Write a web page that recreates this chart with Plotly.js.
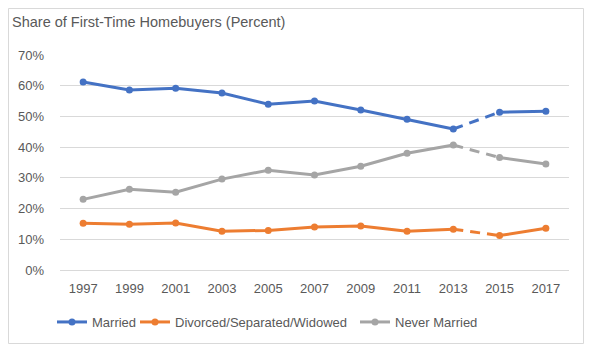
<!DOCTYPE html>
<html>
<head>
<meta charset="utf-8">
<script src="https://cdn.plot.ly/plotly-3.0.1.min.js"></script>
<style>
  html, body { margin: 0; padding: 0; background: #ffffff; }
  #chart { width: 592px; height: 352px; }
</style>
</head>
<body>
<div id="chart"></div>
<script>
// ---- data ----
const years = ["1997", "1999", "2001", "2003", "2005", "2007", "2009", "2011", "2013", "2015", "2017"];
const married = [61.2, 58.6, 59.2, 57.6, 54.0, 55.0, 52.1, 49.1, 45.9, 51.4, 51.7];
const divorced = [15.2, 14.9, 15.3, 12.6, 12.9, 14.0, 14.3, 12.6, 13.3, 11.2, 13.6];
const neverMarried = [23.0, 26.3, 25.3, 29.6, 32.5, 30.9, 33.8, 38.0, 40.7, 36.6, 34.5];
const yTickVals = [0, 10, 20, 30, 40, 50, 60, 70];
const yTickText = ["0%", "10%", "20%", "30%", "40%", "50%", "60%", "70%"];
const seriesNames = ["Married", "Divorced/Separated/Widowed", "Never Married"];
const seriesColors = ["#4472C4", "#ED7D31", "#A5A5A5"];
const seriesValues = [married, divorced, neverMarried];
const breakStart = 8; // 2013 -> 2015 drawn dashed

const FONT = "Liberation Sans, Arial, sans-serif";
const TXT = "#595959";

const legendTraces = [], otherTraces = [];
seriesValues.forEach((vals, i) => {
  const col = seriesColors[i];
  const lg = i === 0 ? "legend" : "legend" + (i + 1);
  legendTraces.push({
    x: years.slice(0, breakStart + 1), y: vals.slice(0, breakStart + 1),
    type: "scatter", mode: "lines+markers", name: seriesNames[i],
    legend: lg, legendgroup: "g" + i,
    line: { color: col, width: 3 }, marker: { color: col, size: 7 },
    hoverinfo: "skip"
  });
  otherTraces.push({
    x: years.slice(breakStart, breakStart + 2), y: vals.slice(breakStart, breakStart + 2),
    type: "scatter", mode: "lines", showlegend: false, legendgroup: "g" + i,
    line: { color: col, width: 3, dash: "10px,7px" }, hoverinfo: "skip"
  });
  otherTraces.push({
    x: years.slice(breakStart + 1), y: vals.slice(breakStart + 1),
    type: "scatter", mode: "lines+markers", showlegend: false, legendgroup: "g" + i,
    line: { color: col, width: 3 }, marker: { color: col, size: 7 }, hoverinfo: "skip"
  });
});

const W = 592, H = 352;
const L = 60, R = 23, T = 55, B = 82;
const pw = W - L - R, ph = H - T - B;
const px2x = p => (p - L) / pw;
const py2y = p => (H - B - p) / ph;

function leg(pxLeft) {
  return {
    orientation: "h", x: px2x(pxLeft), xanchor: "left", y: py2y(322), yanchor: "middle",
    font: { family: FONT, size: 13, color: TXT }, bgcolor: "rgba(0,0,0,0)",
    itemwidth: 30, tracegroupgap: 0
  };
}

const layout = {
  width: W, height: H,
  margin: { l: L, r: R, t: T, b: B },
  paper_bgcolor: "#ffffff", plot_bgcolor: "#ffffff",
  font: { family: FONT, size: 13, color: TXT },
  title: {
    text: "Share of First-Time Homebuyers (Percent)",
    font: { family: FONT, size: 14.5, color: TXT },
    xref: "container", x: 12 / W, xanchor: "left",
    yref: "container", y: 1 - 22 / H, yanchor: "middle"
  },
  xaxis: {
    type: "category", categoryorder: "array", categoryarray: years,
    range: [-0.5, years.length - 0.5],
    showgrid: false, zeroline: false, showline: false, ticks: "",
    tickfont: { family: FONT, size: 13, color: TXT }, ticklabelstandoff: 9,
    fixedrange: true
  },
  yaxis: {
    range: [0, 70], tickvals: yTickVals, ticktext: yTickText,
    showgrid: true, gridcolor: "#D9D9D9", gridwidth: 1,
    zeroline: true, zerolinecolor: "#D9D9D9", zerolinewidth: 1,
    showline: false, ticks: "",
    tickfont: { family: FONT, size: 13, color: TXT }, ticklabelstandoff: 15,
    fixedrange: true
  },
  showlegend: true,
  legend: leg(52),
  legend2: leg(135),
  legend3: leg(355),
  shapes: [{
    type: "rect", xref: "paper", yref: "paper",
    x0: px2x(8.5), x1: px2x(583.5), y0: py2y(343.5), y1: py2y(8.5),
    line: { color: "#D9D9D9", width: 1 }, fillcolor: "rgba(0,0,0,0)", layer: "below"
  }]
};

Plotly.newPlot("chart", legendTraces.concat(otherTraces), layout, { displayModeBar: false, staticPlot: true });
</script>
</body>
</html>
